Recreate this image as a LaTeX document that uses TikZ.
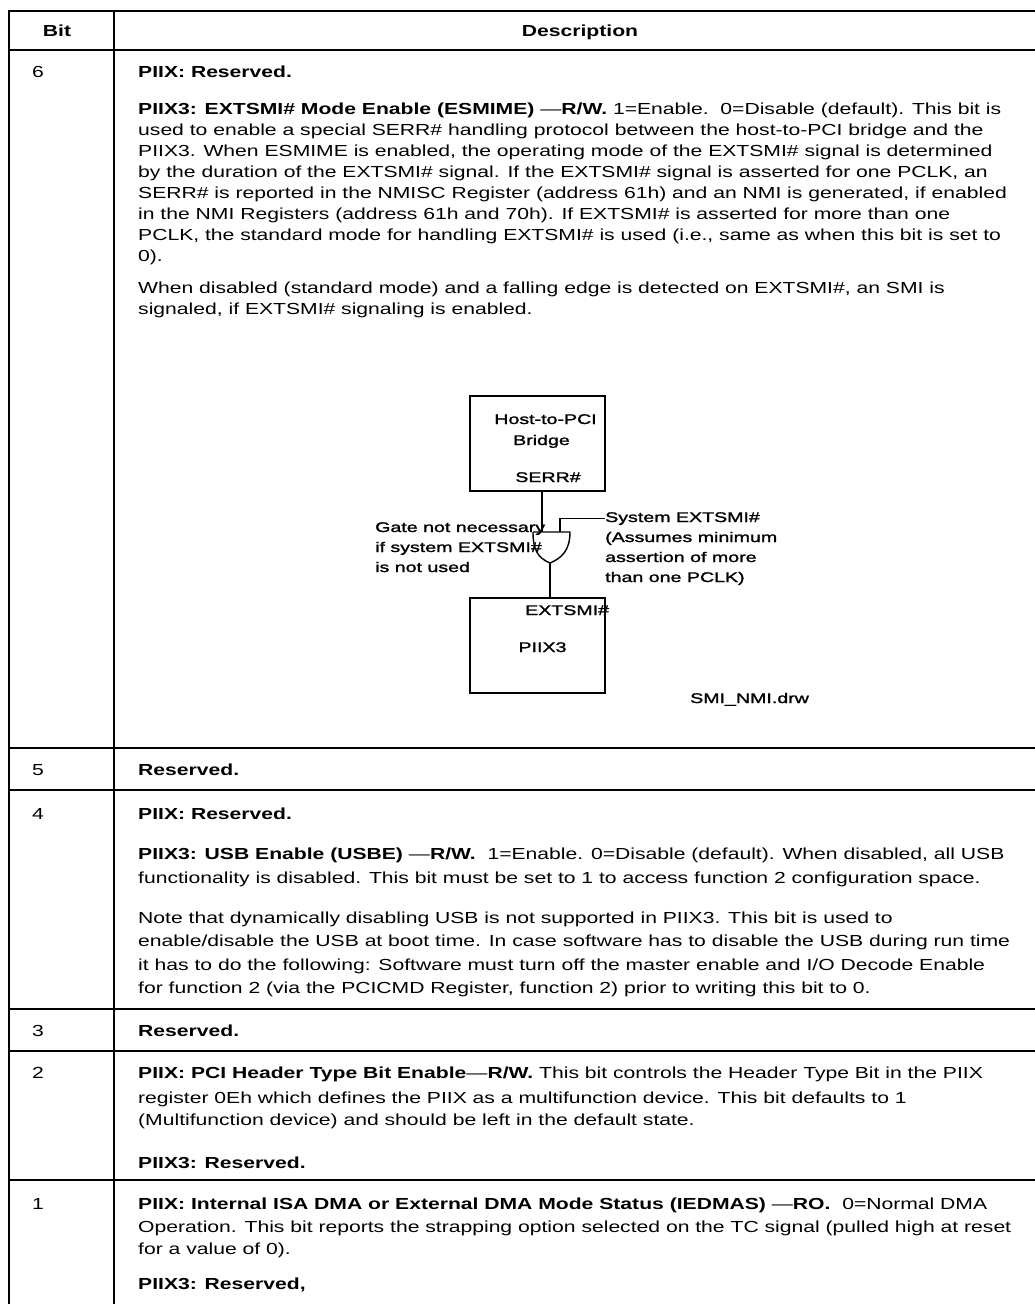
\documentclass[tikz,border=0pt]{standalone}
\usepackage{fontspec}
\setmainfont{Liberation Sans}[FakeStretch=1.32]
\newfontfamily\diagfam{Liberation Sans}[FakeStretch=1.4,FakeBold=1.6]
\newcommand\bodyf{\fontsize{16}{23}\selectfont}
\newcommand\diagf{\diagfam\fontsize{14}{20}\selectfont}
\tikzset{
  tl/.style={anchor=base west, inner sep=0pt, font=\bodyf},
  hd/.style={anchor=base, inner sep=0pt, font=\bodyf\bfseries},
  rowrule/.style={line width=1.8pt},
  heavyrule/.style={line width=2.8pt},
  thinrule/.style={line width=1.4pt},
  blk/.style={draw, line width=1.4pt, minimum width=135pt, minimum height=95pt, inner sep=0pt},
  dl/.style={anchor=base west, inner sep=0pt, font=\diagf},
  dc/.style={anchor=base, inner sep=0pt, font=\diagf},
  wire/.style={line width=1.4pt}
}
\begin{document}
\begin{tikzpicture}[x=1pt,y=-1pt]
\useasboundingbox (0,0) rectangle (1035,1304);
% table rules
\draw[thinrule] (9,11) -- (1035,11);
\draw[heavyrule] (9,50) -- (1035,50);
\draw[rowrule] (9,748) -- (1035,748);
\draw[rowrule] (9,790) -- (1035,790);
\draw[rowrule] (9,1009) -- (1035,1009);
\draw[thinrule] (9,1051) -- (1035,1051);
\draw[heavyrule] (9,1180) -- (1035,1180);
\draw[line width=2.6pt] (9,10) -- (9,1304);
\draw[rowrule] (114,11) -- (114,1304);
% header
\node[hd] (hbit) at (57,36) {Bit};
\node[hd] (hdesc) at (580,36) {Description};
% bit numbers
\node[tl] (b6) at (32,77) {6};
\node[tl] (b5) at (32,775) {5};
\node[tl] (b4) at (32,819) {4};
\node[tl] (b3) at (32,1036) {3};
\node[tl] (b2) at (32,1078) {2};
\node[tl] (b1) at (32,1209) {1};
% row 6
\node[tl] (r6a) at (138,77) {\textbf{PIIX: Reserved.}};
\node[tl] (r6b) at (138,114) {\textbf{PIIX3: EXTSMI\# Mode Enable (ESMIME)} —\textbf{R/W.} 1=Enable.\ \ 0=Disable (default). This bit is};
\node[tl] (r6c) at (138,135) {used to enable a special SERR\# handling protocol between the host-to-PCI bridge and the};
\node[tl] (r6d) at (138,156) {PIIX3. When ESMIME is enabled, the operating mode of the EXTSMI\# signal is determined};
\node[tl] (r6e) at (138,177) {by the duration of the EXTSMI\# signal. If the EXTSMI\# signal is asserted for one PCLK, an};
\node[tl] (r6f) at (138,198) {SERR\# is reported in the NMISC Register (address 61h) and an NMI is generated, if enabled};
\node[tl] (r6g) at (138,219) {in the NMI Registers (address 61h and 70h). If EXTSMI\# is asserted for more than one};
\node[tl] (r6h) at (138,240) {PCLK, the standard mode for handling EXTSMI\# is used (i.e., same as when this bit is set to};
\node[tl] (r6i) at (138,261) {0).};
\node[tl] (r6j) at (138,293) {When disabled (standard mode) and a falling edge is detected on EXTSMI\#, an SMI is};
\node[tl] (r6k) at (138,314) {signaled, if EXTSMI\# signaling is enabled.};
% diagram
\node[blk] (host) at (537.5,443.5) {};
\node[dc] (hostt) at (545.5,424) {Host-to-PCI};
\node[dc] (bridge) at (541.5,445) {Bridge};
\node[dc] (serr) at (548,482) {SERR\#};
\node[blk] (piix) at (537.5,645.5) {};
\node[dl] (extsmi) at (525,615) {EXTSMI\#};
\node[dc] (piixt) at (542.5,652) {PIIX3};
\coordinate (gtl) at (533,532);
\coordinate (gtr) at (570,532);
\coordinate (gout) at (550,563);
\coordinate (gin1) at (542,532);
\coordinate (gin2) at (560,532);
\draw[wire] (gtl) -- (gtr) .. controls (570,550) and (562,558) .. (gout) .. controls (538,558) and (533,550) .. (gtl);
\draw[wire] (gin1 |- host.south) -- (gin1);
\node[dl] (sys1) at (605,522) {System EXTSMI\#};
\node[dl] (sys2) at (605,542) {(Assumes minimum};
\node[dl] (sys3) at (605,562) {assertion of more};
\node[dl] (sys4) at (605,582) {than one PCLK)};
\draw[wire] (gin2) -- (gin2 |- sys1.west) -- (sys1.west);
\draw[wire] (gout) -- (gout |- piix.north);
\node[dl] (gate1) at (375,532) {Gate not necessary};
\node[dl] (gate2) at (375,552) {if system EXTSMI\#};
\node[dl] (gate3) at (375,572) {is not used};
\node[dl] (fname) at (690,703) {SMI\_NMI.drw};
% row 5
\node[tl] (r5a) at (138,775) {\textbf{Reserved.}};
% row 4
\node[tl] (r4a) at (138,819) {\textbf{PIIX: Reserved.}};
\node[tl] (r4b) at (138,859) {\textbf{PIIX3: USB Enable (USBE)} —\textbf{R/W.}\ \ 1=Enable. 0=Disable (default). When disabled, all USB};
\node[tl] (r4c) at (138,883) {functionality is disabled. This bit must be set to 1 to access function 2 configuration space.};
\node[tl] (r4d) at (138,923) {Note that dynamically disabling USB is not supported in PIIX3. This bit is used to};
\node[tl] (r4e) at (138,946) {enable/disable the USB at boot time. In case software has to disable the USB during run time};
\node[tl] (r4f) at (138,970) {it has to do the following: Software must turn off the master enable and I/O Decode Enable};
\node[tl] (r4g) at (138,993) {for function 2 (via the PCICMD Register, function 2) prior to writing this bit to 0.};
% row 3
\node[tl] (r3a) at (138,1036) {\textbf{Reserved.}};
% row 2
\node[tl] (r2a) at (138,1078) {\textbf{PIIX: PCI Header Type Bit Enable}—\textbf{R/W.} This bit controls the Header Type Bit in the PIIX};
\node[tl] (r2b) at (138,1103) {register 0Eh which defines the PIIX as a multifunction device. This bit defaults to 1};
\node[tl] (r2c) at (138,1125) {(Multifunction device) and should be left in the default state.};
\node[tl] (r2d) at (138,1168) {\textbf{PIIX3: Reserved.}};
% row 1
\node[tl] (r1a) at (138,1209) {\textbf{PIIX: Internal ISA DMA or External DMA Mode Status (IEDMAS)} —\textbf{RO.}\ \ 0=Normal DMA};
\node[tl] (r1b) at (138,1232) {Operation. This bit reports the strapping option selected on the TC signal (pulled high at reset};
\node[tl] (r1c) at (138,1254) {for a value of 0).};
\node[tl] (r1d) at (138,1289) {\textbf{PIIX3: Reserved,}};
\end{tikzpicture}
\end{document}
